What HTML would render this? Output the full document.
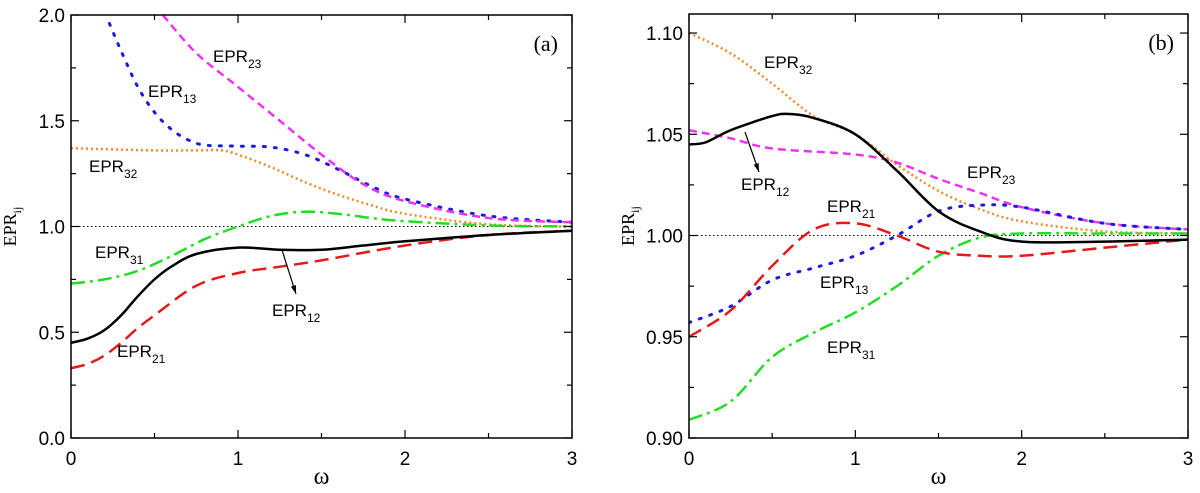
<!DOCTYPE html>
<html><head><meta charset="utf-8"><style>
body{margin:0;background:#fff}
svg text{font-family:"Liberation Sans",sans-serif;fill:#000}
.serif{font-family:"Liberation Serif",serif}
</style></head><body>
<svg id="chart" width="1200" height="488" viewBox="0 0 1200 488" xmlns="http://www.w3.org/2000/svg"></svg>
<script>
// ---- Panel (a) data ----
const aX12=[0,0.1,0.2,0.3,0.4,0.5,0.6,0.75,1,1.25,1.5,1.75,2,2.5,3];
const aY12=[0.45,0.47,0.51,0.58,0.67,0.75,0.81,0.87,0.90,0.89,0.89,0.91,0.93,0.96,0.98];
const aX21=[0,0.1,0.2,0.3,0.4,0.5,0.75,1,1.25,1.5,2,2.5,3];
const aY21=[0.33,0.35,0.39,0.45,0.52,0.58,0.72,0.78,0.81,0.84,0.91,0.96,0.98];
const aX31=[0,0.2,0.4,0.6,0.8,1,1.2,1.4,1.6,1.8,2,2.5,3];
const aY31=[0.73,0.75,0.79,0.86,0.94,1.0,1.05,1.07,1.06,1.04,1.025,1.005,1.0];
const aX32=[0,0.5,0.75,0.9,1,1.2,1.4,1.6,1.8,2,2.5,3];
const aY32=[1.37,1.36,1.36,1.36,1.34,1.28,1.21,1.15,1.10,1.06,1.01,1.0];
const aX13=[0.23,0.3,0.4,0.5,0.6,0.7,0.8,1,1.2,1.4,1.6,1.8,2,2.5,3];
const aY13=[1.96,1.83,1.66,1.54,1.46,1.41,1.385,1.38,1.375,1.34,1.27,1.19,1.13,1.05,1.02];
const aX23=[0.55,0.75,1,1.25,1.5,1.75,2,2.5,3];
const aY23=[2.0,1.82,1.66,1.50,1.34,1.20,1.12,1.04,1.02];
const aYTicks=["0.0","0.5","1.0","1.5","2.0"];
// ---- Panel (b) data ----
const bX32=[0,0.25,0.5,0.75,1,1.25,1.5,1.75,2,2.5,3];
const bY32=[1.10,1.09,1.075,1.059,1.05,1.035,1.022,1.013,1.007,1.002,1.001];
const bX12=[0,0.1,0.25,0.5,0.6,0.75,1,1.25,1.5,1.75,2,2.5,3];
const bY12=[1.045,1.046,1.052,1.059,1.06,1.058,1.05,1.032,1.012,1.002,0.997,0.997,0.998];
const bX23=[0,0.25,0.5,1,1.25,1.5,1.75,2,2.5,3];
const bY23=[1.052,1.048,1.043,1.04,1.036,1.028,1.021,1.014,1.006,1.003];
const bX21=[0,0.25,0.5,0.75,1,1.25,1.5,1.75,2,2.5,3];
const bY21=[0.95,0.963,0.985,1.003,1.006,1.0,0.992,0.99,0.99,0.994,0.998];
const bX13=[0,0.25,0.5,0.75,1,1.25,1.5,1.75,2,2.5,3];
const bY13=[0.957,0.965,0.978,0.984,0.99,1.0,1.012,1.015,1.014,1.006,1.003];
const bX31=[0,0.25,0.5,0.75,1,1.25,1.5,1.75,2,2.5,3];
const bY31=[0.909,0.918,0.94,0.952,0.962,0.975,0.99,0.999,1.001,1.001,1.001];
const bYTicks=["0.90","0.95","1.00","1.05","1.10"];
const xTicks=["0","1","2","3"];

const NS="http://www.w3.org/2000/svg";
const svg=document.getElementById('chart');
function mk(t,a,p){const e=document.createElementNS(NS,t);for(const k in a)e.setAttribute(k,a[k]);(p||svg).appendChild(e);return e;}
function path(xs,ys,sx,sy){
  const P=xs.map((x,i)=>[sx(x),sy(ys[i])]);
  let d='M'+P[0][0]+','+P[0][1];
  for(let i=0;i<P.length-1;i++){
    const p0=P[i-1]||P[i],p1=P[i],p2=P[i+1],p3=P[i+2]||P[i+1];
    const c1=[p1[0]+(p2[0]-p0[0])/6,p1[1]+(p2[1]-p0[1])/6];
    const c2=[p2[0]-(p3[0]-p1[0])/6,p2[1]-(p3[1]-p1[1])/6];
    d+=` C${c1[0]},${c1[1]} ${c2[0]},${c2[1]} ${p2[0]},${p2[1]}`;
  }
  return d;
}
const styles={
 '12':{stroke:'#000',w:2.5,dash:''},
 '21':{stroke:'#e41a1a',w:2.5,dash:'14,7'},
 '31':{stroke:'#22dd22',w:2.5,dash:'14,5,3,5'},
 '32':{stroke:'#ef8a2a',w:2.5,dash:'2,3'},
 '13':{stroke:'#1a1ae0',w:3,dash:'2,9'},
 '23':{stroke:'#ee33ee',w:2.5,dash:'8,5'}
};
function panel(id,L,R,T,B,ymin,ymax,yTicks,series,label,minor){
  const g=mk('g',{});
  
  
  const sx=x=>L+(R-L)*x/3, sy=y=>B-(B-T)*(y-ymin)/(ymax-ymin);
  const clipId='clip'+id;
  const cp=mk('clipPath',{id:clipId},g);mk('rect',{x:L,y:T,width:R-L,height:B-T},cp);
  const ref=mk('line',{x1:L,x2:R,y1:sy(1),y2:sy(1),stroke:'#000','stroke-width':1,'stroke-dasharray':'1.5,2.5'},g);
  
  
  const cg=mk('g',{'clip-path':`url(#${clipId})`},g);
  series.forEach(s=>{const st=styles[s.k];
    const p=mk('path',{d:path(s.x,s.y,sx,sy),fill:'none',stroke:st.stroke,'stroke-width':st.w,'stroke-dasharray':st.dash,'stroke-linecap':s.k==='13'?'round':'butt'},cg);
    
    
  });
  const fr=mk('rect',{x:L,y:T,width:R-L,height:B-T,fill:'none',stroke:'#000','stroke-width':1.5},g);
  
  
  for(let i=0;i<=6;i++){const x=sx(i/2),len=i%2?5:8;
    mk('line',{x1:x,x2:x,y1:B,y2:B-len,stroke:'#000','stroke-width':1.2},g);
    mk('line',{x1:x,x2:x,y1:T,y2:T+len,stroke:'#000','stroke-width':1.2},g);}
  xTicks.forEach((t,i)=>{const e=mk('text',{x:sx(i),y:B+27,'font-size':19,'text-anchor':'middle'},g);e.textContent=t;
    });
  const n=yTicks.length;
  yTicks.forEach((t,i)=>{const v=ymin+i*minor*2;const y=sy(v);
    mk('line',{x1:L,x2:L+8,y1:y,y2:y,stroke:'#000','stroke-width':1.2},g);
    mk('line',{x1:R,x2:R-8,y1:y,y2:y,stroke:'#000','stroke-width':1.2},g);
    const e=mk('text',{x:L-6,y:y+7,'font-size':19,'text-anchor':'end'},g);e.textContent=t;
    
    if(i<n-1){const ym=sy(v+minor);mk('line',{x1:L,x2:L+5,y1:ym,y2:ym,stroke:'#000','stroke-width':1.2},g);mk('line',{x1:R,x2:R-5,y1:ym,y2:ym,stroke:'#000','stroke-width':1.2},g);}
  });
  const xl=mk('text',{x:(L+R)/2,y:B+46,'font-size':24,'text-anchor':'middle',class:'serif'},g);xl.textContent='ω';
  
  const yl=mk('text',{x:0,y:0,'font-size':18,'text-anchor':'middle',class:'serif',transform:`translate(${L-55},${(T+B)/2}) rotate(-90)`},g);
  yl.innerHTML='EPR<tspan font-size="12" dy="5">ij</tspan>';
  
  const pl=mk('text',{x:R-14,y:T+36,'font-size':22,'text-anchor':'end',class:'serif'},g);pl.textContent=label;
  
  return g;
}
function lab(x,y,sub,name){const e=mk('text',{x:x,y:y,'font-size':17});e.innerHTML='EPR<tspan font-size="12" dy="6">'+sub+'</tspan>';
  }
function arrow(x1,y1,x2,y2){const l=mk('line',{x1,y1,x2,y2,stroke:'#000','stroke-width':1.2});
  
  const a=Math.atan2(y2-y1,x2-x1),s=9;
  mk('polygon',{points:`${x2},${y2} ${x2-s*Math.cos(a-0.3)},${y2-s*Math.sin(a-0.3)} ${x2-s*Math.cos(a+0.3)},${y2-s*Math.sin(a+0.3)}`,fill:'#000'});}

panel('a',71,572,15,438,0,2,aYTicks,[
 {k:'32',x:aX32,y:aY32},{k:'13',x:aX13,y:aY13},{k:'23',x:aX23,y:aY23},
 {k:'31',x:aX31,y:aY31},{k:'21',x:aX21,y:aY21},{k:'12',x:aX12,y:aY12}],'(a)',0.25);
panel('b',689,1188,14,438,0.90,1.1094,bYTicks,[
 {k:'32',x:bX32,y:bY32},{k:'23',x:bX23,y:bY23},{k:'13',x:bX13,y:bY13},
 {k:'31',x:bX31,y:bY31},{k:'21',x:bX21,y:bY21},{k:'12',x:bX12,y:bY12}],'(b)',0.025);

lab(213,62,'23','label-epr23-a');
lab(148,97,'13','label-epr13-a');
lab(89,172,'32','label-epr32-a');
lab(95,258,'31','label-epr31-a');
lab(272,316,'12','label-epr12-a');
lab(117,357,'21','label-epr21-a');
arrow(282,250,296,294);
lab(764,68,'32','label-epr32-b');
lab(967,178,'23','label-epr23-b');
lab(741,190,'12','label-epr12-b');
lab(827,212,'21','label-epr21-b');
lab(820,288,'13','label-epr13-b');
lab(827,353,'31','label-epr31-b');
arrow(745,132,759,172);
</script>
</body></html>
